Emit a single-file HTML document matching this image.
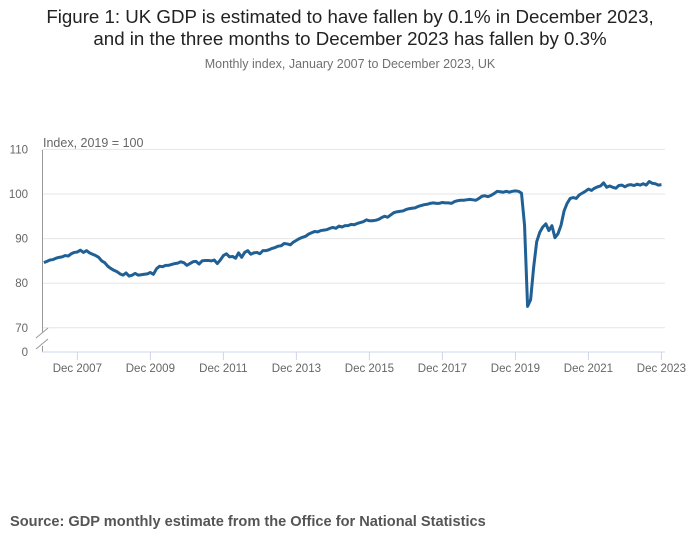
<!DOCTYPE html>
<html><head><meta charset="utf-8"><style>
body{margin:0;background:#fff;font-family:"Liberation Sans",sans-serif;}
#wrap{position:relative;width:700px;height:549px;overflow:hidden;}
</style></head><body>
<div id="wrap">
<svg id="chart" width="700" height="549" xmlns="http://www.w3.org/2000/svg">
<text x="350" y="23" text-anchor="middle" font-size="18.7" fill="#222">Figure 1: UK GDP is estimated to have fallen by 0.1% in December 2023,</text>
<text x="350" y="45" text-anchor="middle" font-size="18.7" fill="#222">and in the three months to December 2023 has fallen by 0.3%</text>
<text x="350" y="68" text-anchor="middle" font-size="12.5" fill="#707070">Monthly index, January 2007 to December 2023, UK</text>
<text x="43" y="147" font-size="12.5" fill="#666">Index, 2019 = 100</text>
<g id="grid"></g><g id="yticks"></g><g id="xticks"></g>
<line x1="42.5" y1="150" x2="42.5" y2="352" stroke="#999" stroke-width="1"/>
<line x1="42" y1="352" x2="665" y2="352" stroke="#ccd6eb" stroke-width="1"/>
<rect x="34" y="332" width="16" height="14" fill="#fff"/>
<line x1="36" y1="338" x2="48" y2="328" stroke="#999"/>
<line x1="36" y1="349" x2="48" y2="339" stroke="#999"/>
<path id="series" fill="none" stroke="#206095" stroke-width="3" stroke-linejoin="round"/>
<text x="10" y="526" font-size="14.6" font-weight="bold" fill="#555">Source: GDP monthly estimate from the Office for National Statistics</text>
</svg>
</div>
<script>
const gdpValues = [
84.6,84.9,85.2,85.3,85.6,85.8,85.9,86.2,86.1,86.6,86.9,87.0,
87.4,86.9,87.3,86.8,86.5,86.2,85.8,85.0,84.6,83.8,83.3,82.9,
82.6,82.1,81.8,82.3,81.6,81.8,82.2,81.8,81.9,82.0,82.1,82.4,
82.0,83.2,83.8,83.7,84.0,84.0,84.2,84.4,84.5,84.8,84.6,84.0,
84.4,84.8,84.9,84.3,85.0,85.1,85.1,85.0,85.2,84.4,85.2,86.2,
86.6,85.9,86.0,85.6,86.8,85.8,86.9,87.3,86.5,86.8,86.9,86.6,
87.3,87.3,87.5,87.8,88.0,88.3,88.4,88.9,88.8,88.6,89.2,89.6,
90.0,90.3,90.5,91.0,91.3,91.6,91.5,91.8,91.9,92.0,92.3,92.5,
92.3,92.8,92.6,92.9,92.9,93.2,93.1,93.4,93.6,93.8,94.2,94.0,
94.0,94.1,94.3,94.7,95.0,94.8,95.3,95.8,96.0,96.1,96.2,96.5,
96.7,96.8,96.9,97.2,97.4,97.6,97.7,97.9,98.0,97.9,97.9,98.1,
98.0,98.0,97.9,98.3,98.5,98.6,98.6,98.7,98.8,98.7,98.6,99.0,
99.5,99.6,99.4,99.7,100.1,100.6,100.5,100.4,100.6,100.4,100.6,100.7,
100.6,100.2,93.0,74.8,76.3,83.6,89.3,91.4,92.6,93.3,91.8,92.9,
90.2,91.1,93.0,96.2,97.9,99.0,99.2,99.0,99.8,100.2,100.6,101.1,
100.8,101.3,101.6,101.8,102.5,101.5,101.8,101.5,101.3,101.9,102.0,101.6,
102.0,102.1,101.9,102.2,102.0,102.3,102.0,102.8,102.4,102.3,102.0,102.1
];
const startYear = 2007;
const yTickValues = [70, 80, 90, 100, 110];
const xTickLabels = ["Dec 2007","Dec 2009","Dec 2011","Dec 2013","Dec 2015","Dec 2017","Dec 2019","Dec 2021","Dec 2023"];
const xTickYears = [2007,2009,2011,2013,2015,2017,2019,2021,2023];

const NS = "http://www.w3.org/2000/svg";
function xScale(i){ return 43.9 + i * 3.042; }
function yScale(v){ return 194 - (v - 100) * 4.46; }

const grid = document.getElementById('grid');
const yt = document.getElementById('yticks');
yTickValues.forEach(v => {
  const l = document.createElementNS(NS,'line');
  l.setAttribute('x1',42); l.setAttribute('x2',665);
  l.setAttribute('y1',yScale(v)); l.setAttribute('y2',yScale(v));
  l.setAttribute('stroke','#e6e6e6');
  
  
  grid.appendChild(l);
  const t = document.createElementNS(NS,'text');
  t.setAttribute('x',28); t.setAttribute('y',yScale(v)+4);
  t.setAttribute('text-anchor','end'); t.setAttribute('font-size','11.5');
  t.setAttribute('fill','#666'); t.textContent = v;
  
  
  yt.appendChild(t);
});
const zt = document.createElementNS(NS,'text');
zt.setAttribute('x',28); zt.setAttribute('y',356);
zt.setAttribute('text-anchor','end'); zt.setAttribute('font-size','11.5');
zt.setAttribute('fill','#666'); zt.textContent = '0';


yt.appendChild(zt);

const xt = document.getElementById('xticks');
xTickYears.forEach((yr, k) => {
  const x = xScale((yr - startYear) * 12 + 11);
  const l = document.createElementNS(NS,'line');
  l.setAttribute('x1',x); l.setAttribute('x2',x);
  l.setAttribute('y1',352); l.setAttribute('y2',360);
  l.setAttribute('stroke','#ccd6eb');
  
  
  xt.appendChild(l);
  const t = document.createElementNS(NS,'text');
  t.setAttribute('x',x); t.setAttribute('y',372);
  t.setAttribute('text-anchor','middle'); t.setAttribute('font-size','11.5');
  t.setAttribute('fill','#666'); t.textContent = xTickLabels[k];
  
  
  xt.appendChild(t);
});

document.getElementById('series').setAttribute('d',
  gdpValues.map((v,i) => (i ? 'L' : 'M') + xScale(i).toFixed(2) + ' ' + yScale(v).toFixed(2)).join(' '));
</script>
</body></html>
